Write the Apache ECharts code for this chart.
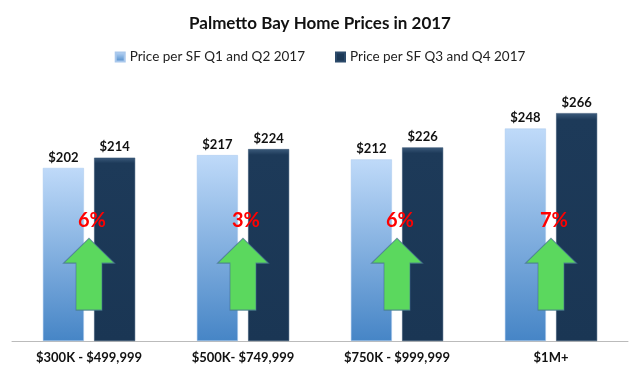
<!DOCTYPE html>
<html>
<head>
<meta charset="utf-8">
<script src="https://cdn.jsdelivr.net/npm/echarts@6/dist/echarts.min.js"></script>
<style>
  html, body { margin: 0; padding: 0; background: #fff; }
  #chart { width: 640px; height: 376px; }
</style>
</head>
<body>
<div id="chart"></div>
<script>
// price ranges
var categories = ["$300K - $499,999", "$500K- $749,999", "$750K - $999,999", "$1M+"];
// price per SF, first half vs second half of 2017
var firstHalf = [202, 217, 212, 248];
var secondHalf = [214, 224, 226, 266];
var changeLabels = ["6%", "3%", "6%", "7%"];

var seriesNames = ["Price per SF Q1 and Q2 2017", "Price per SF Q3 and Q4 2017"];

var FONT = "Lato, 'Open Sans', sans-serif";

var lightFill = new echarts.graphic.LinearGradient(0, 0, 0, 1, [
  { offset: 0, color: "#bfdaf9" },
  { offset: 1, color: "#4685c6" }
]);
var darkFill = new echarts.graphic.LinearGradient(0, 0, 0, 1, [
  { offset: 0, color: "#3b5a7b" },
  { offset: 0.03, color: "#1d3a59" },
  { offset: 1, color: "#1a3654" }
]);

var arrowPath = "path://M25.5,0 L51,25 L38.5,25 L38.5,72 L12.5,72 L12.5,25 L0,25 Z";

var chart = echarts.init(document.getElementById("chart"));

var option = {
  animation: false,
  backgroundColor: "#fff",
  title: {
    text: "Palmetto Bay Home Prices in 2017",
    left: "center",
    top: 10,
    textStyle: { fontFamily: FONT, fontSize: 17, fontWeight: "bold", color: "#111" }
  },
  legend: {
    top: 45,
    left: "center",
    itemWidth: 9,
    itemHeight: 9,
    itemGap: 30,
    icon: "rect",
    data: seriesNames,
    textStyle: { fontFamily: FONT, fontSize: 13.5, color: "#222" }
  },
  grid: { left: 12, right: 12, top: 84, bottom: 35 },
  xAxis: {
    type: "category",
    data: categories,
    axisLine: { lineStyle: { color: "#bbbbbb", width: 1 } },
    axisTick: { show: false },
    axisLabel: { fontFamily: FONT, fontSize: 13, fontWeight: "bold", color: "#111", margin: 10 }
  },
  yAxis: {
    type: "value",
    min: 0,
    max: 300,
    show: false
  },
  series: [
    {
      name: seriesNames[0],
      type: "bar",
      data: firstHalf,
      barWidth: 41,
      barGap: "25%",
      itemStyle: { color: lightFill, borderColor: "#a9c8ec", borderWidth: 0.5 },
      label: {
        show: true,
        position: "top",
        distance: 4,
        formatter: function (p) { return "$" + p.value; },
        fontFamily: FONT, fontSize: 13, fontWeight: "bold", color: "#111"
      }
    },
    {
      name: seriesNames[1],
      type: "bar",
      data: secondHalf,
      barWidth: 41,
      itemStyle: { color: darkFill, borderColor: "#2c4a6a", borderWidth: 0.5 },
      label: {
        show: true,
        position: "top",
        distance: 4,
        formatter: function (p) { return "$" + p.value; },
        fontFamily: FONT, fontSize: 13, fontWeight: "bold", color: "#111"
      }
    },
    {
      type: "scatter",
      symbol: arrowPath,
      symbolSize: [51, 72],
      z: 5,
      data: categories.map(function (c, i) {
        return { value: [c, 78], name: changeLabels[i] };
      }),
      itemStyle: { color: "#5bd85e", borderColor: "rgba(70,110,150,0.7)", borderWidth: 1, opacity: 1 },
      label: {
        show: true,
        position: "top",
        distance: 7,
        offset: [3, 0],
        formatter: function (p) { return p.name; },
        fontFamily: FONT, fontSize: 20, fontWeight: "bold", color: "#ff0000"
      },
      tooltip: { show: false }
    }
  ]
};

chart.setOption(option);
</script>
</body>
</html>
